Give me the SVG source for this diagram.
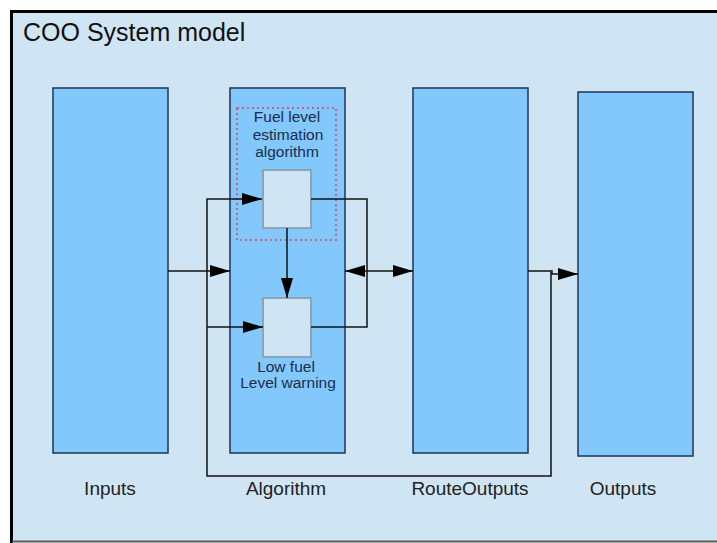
<svg xmlns="http://www.w3.org/2000/svg" width="717" height="543" viewBox="0 0 717 543">
  <style>
    .frame-fill { fill: #D0E5F3; }
    .block { fill: #82C8FC; stroke: #1E3550; stroke-width: 1.5; }
    .sub { fill: #D0E5F3; stroke: #8DA4B6; stroke-width: 2; }
    .wire { fill: none; stroke: #111; stroke-width: 1.5; }
    .label { font-family: "Liberation Sans", Arial, sans-serif; font-size: 19px; fill: #222; text-anchor: middle; }
    .inner { font-family: "Liberation Sans", Arial, sans-serif; font-size: 15.5px; fill: #1B2C4C; text-anchor: middle; }
    .title { font-family: "Liberation Sans", Arial, sans-serif; font-size: 25px; fill: #111; }
  </style>
  <defs>
    <marker id="head" markerUnits="userSpaceOnUse" markerWidth="20" markerHeight="12" refX="20" refY="6" orient="auto-start-reverse">
      <path d="M0,0 L20,6 L0,12 z" fill="#000"/>
    </marker>
  </defs>

  <!-- page and model frame -->
  <rect x="0" y="0" width="717" height="543" fill="#fff"/>
  <rect class="frame-fill" x="12" y="11" width="705" height="531"/>
  <path d="M11.5,543 V11.5 H717" fill="none" stroke="#000" stroke-width="3"/>
  <line x1="12" y1="541.5" x2="717" y2="541.5" stroke="#5a5a5a" stroke-width="2"/>
  <text class="title" x="23" y="41">COO System model</text>

  <g id="inputs">
    <rect class="block" x="53" y="88" width="115" height="365"/>
    <text class="label" x="110" y="495">Inputs</text>
  </g>

  <g id="algorithm">
    <rect class="block" x="230" y="88" width="115" height="365"/>
    <text class="label" x="286" y="495">Algorithm</text>
  </g>

  <g id="fuel-estimation">
    <rect x="237" y="108" width="99" height="132" fill="none" stroke="#D0607A" stroke-width="2" stroke-dasharray="2 3"/>
    <text class="inner" x="287" y="122">Fuel level</text>
    <text class="inner" x="288" y="140">estimation</text>
    <text class="inner" x="287" y="157">algorithm</text>
    <rect class="sub" x="263" y="170" width="48" height="58"/>
  </g>

  <g id="low-fuel-warning">
    <rect class="sub" x="263" y="298" width="48" height="59"/>
    <text class="inner" x="286" y="372">Low fuel</text>
    <text class="inner" x="288" y="388">Level warning</text>
  </g>

  <g id="route-outputs">
    <rect class="block" x="413" y="88" width="115" height="365"/>
    <text class="label" x="470" y="495">RouteOutputs</text>
  </g>

  <g id="outputs">
    <rect class="block" x="578" y="92" width="115" height="364"/>
    <text class="label" x="623" y="495">Outputs</text>
  </g>

  <g id="connectors">
    <!-- inputs into the algorithm block -->
    <path class="wire" d="M168,271 H230" marker-end="url(#head)"/>
    <!-- feedback loop from the output side back to both sub-blocks -->
    <path class="wire" d="M551,272 V476 H207 V199 H262" marker-end="url(#head)"/>
    <path class="wire" d="M207,327 H263" marker-end="url(#head)"/>
    <!-- estimation feeds the warning -->
    <path class="wire" d="M287,228 V298" marker-end="url(#head)"/>
    <!-- sub-block outputs joined on the right -->
    <path class="wire" d="M311,199 H367 V327 H311"/>
    <!-- algorithm and route outputs exchange -->
    <path class="wire" d="M345,271 H413" marker-start="url(#head)" marker-end="url(#head)"/>
    <!-- route outputs to outputs -->
    <path class="wire" d="M528,271 H552 V274 H578" marker-end="url(#head)"/>
  </g>
</svg>
